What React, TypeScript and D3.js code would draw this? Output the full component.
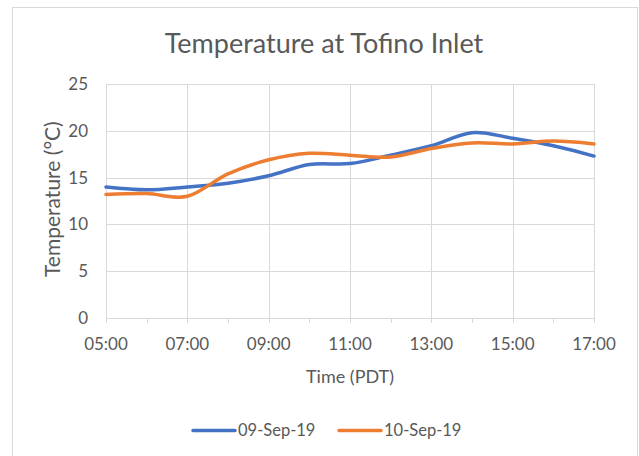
import React from "react";
import * as d3 from "d3";

const hours = [5, 6, 7, 8, 9, 10, 11, 12, 13, 14, 15, 16, 17];
const sep09 = [14.0, 13.7, 14.0, 14.4, 15.2, 16.4, 16.5, 17.4, 18.4, 19.8, 19.2, 18.4, 17.3];
const sep10 = [13.2, 13.3, 13.0, 15.4, 16.9, 17.6, 17.4, 17.2, 18.1, 18.7, 18.6, 18.9, 18.6];
const xTicks = [5, 7, 9, 11, 13, 15, 17];
const yTicks = [0, 5, 10, 15, 20, 25];
const seriesNames = ["09-Sep-19", "10-Sep-19"];
const seriesColors = ["#4472C4", "#ED7D31"];

const W = 639;
const H = 456;
const FONT = "Lato, 'Open Sans', sans-serif";
const TXT = "#595959";

export default function App() {
  const x = d3.scaleLinear().domain([5, 17]).range([106, 594]);
  const y = d3.scaleLinear().domain([0, 25]).range([318, 84]);
  const line = d3
    .line<number>()
    .x((_, i) => x(hours[i]))
    .y((d) => y(d))
    .curve(d3.curveCardinal.tension(0));
  const fmt = (h: number) => `${String(h).padStart(2, "0")}:00`;
  const series = [sep09, sep10];
  const minor = d3.range(5, 18, 1);

  return (
    <svg
      width={W}
      height={H}
      style={{ position: "absolute", left: 0, top: 0, background: "#fff" }}
      fontFamily={FONT}
    >
      <rect x={12.5} y={7.5} width={625} height={460} fill="#fff" stroke="#d9d9d9" strokeWidth={1} />
      <text x={324} y={53} textAnchor="middle" fontSize={27} fill={TXT}>
        Temperature at Tofino Inlet
      </text>
      {yTicks.map((t) => (
        <g key={"y" + t}>
          {t > 0 && (
            <line x1={106} x2={594} y1={Math.round(y(t)) + 0.5} y2={Math.round(y(t)) + 0.5} stroke="#d9d9d9" />
          )}
          <text x={88} y={y(t)} dy="0.35em" textAnchor="end" fontSize={17} fill={TXT}>
            {t}
          </text>
        </g>
      ))}
      {xTicks.map((t) => (
        <g key={"x" + t}>
          <line x1={Math.round(x(t)) + 0.5} x2={Math.round(x(t)) + 0.5} y1={84} y2={323} stroke="#d9d9d9" />
          <text x={x(t)} y={350} textAnchor="middle" fontSize={17} fill={TXT}>
            {fmt(t)}
          </text>
        </g>
      ))}
      {minor.map((t) => (
        <line key={"m" + t} x1={Math.round(x(t)) + 0.5} x2={Math.round(x(t)) + 0.5} y1={318} y2={323} stroke="#d9d9d9" />
      ))}
      <line x1={106} x2={594} y1={318.5} y2={318.5} stroke="#d9d9d9" />
      <text x={350} y={383} textAnchor="middle" fontSize={18} fill={TXT}>
        Time (PDT)
      </text>
      <text
        transform={`translate(60,${y(12.7)}) rotate(-90)`}
        textAnchor="middle"
        fontSize={21}
        fill={TXT}
      >
        Temperature (°C)
      </text>
      {series.map((s, i) => (
        <path
          key={seriesNames[i]}
          d={line(s) || ""}
          fill="none"
          stroke={seriesColors[i]}
          strokeWidth={3.5}
          strokeLinecap="round"
        />
      ))}
      {seriesNames.map((n, i) => {
        const lx = i === 0 ? 193 : 339;
        return (
          <g key={"l" + n}>
            <line x1={lx} x2={lx + 42} y1={430.5} y2={430.5} stroke={seriesColors[i]} strokeWidth={3.5} strokeLinecap="round" />
            <text x={lx + 45} y={430.5} dy="0.35em" fontSize={16.5} fill={TXT}>
              {n}
            </text>
          </g>
        );
      })}
    </svg>
  );
}
